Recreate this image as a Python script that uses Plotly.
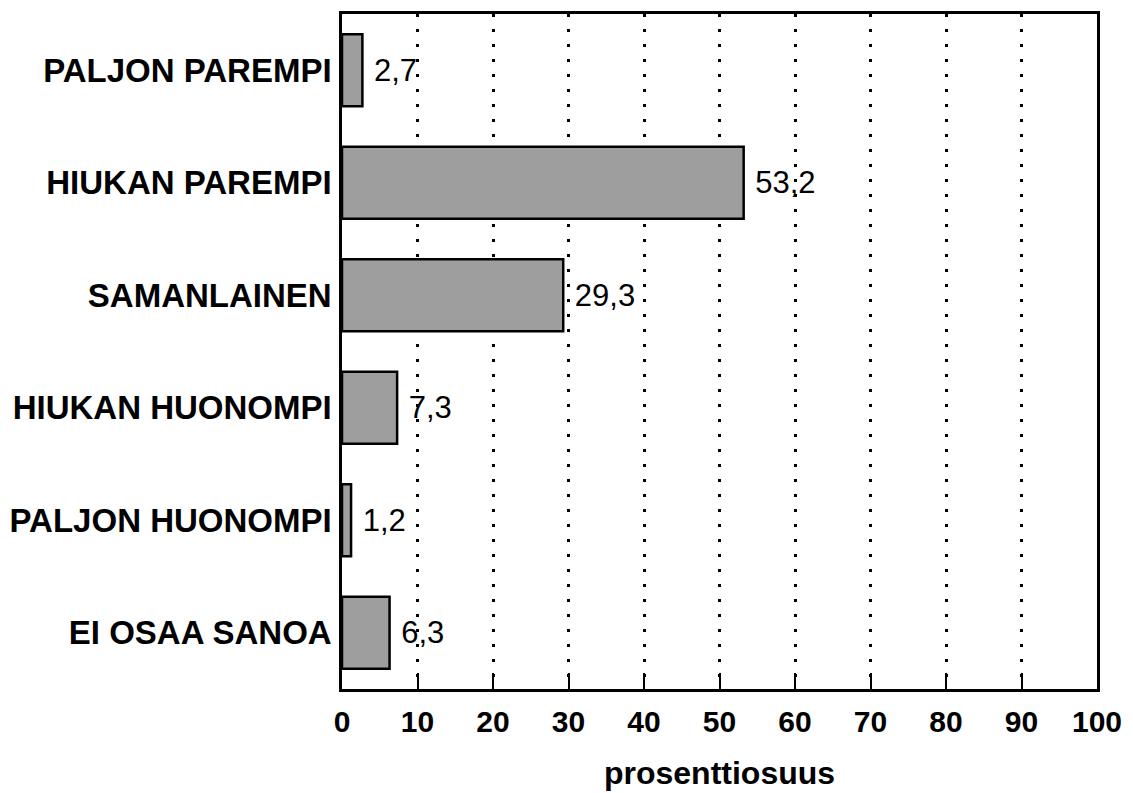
import plotly.graph_objects as go

categories = ["PALJON PAREMPI", "HIUKAN PAREMPI", "SAMANLAINEN",
              "HIUKAN HUONOMPI", "PALJON HUONOMPI", "EI OSAA SANOA"]
values = [2.7, 53.2, 29.3, 7.3, 1.2, 6.3]
x_ticks = [0, 10, 20, 30, 40, 50, 60, 70, 80, 90, 100]
x_title = "prosenttiosuus"

labels = [" " + f"{v:.1f}".replace(".", ",") for v in values]

FONT = "Liberation Sans, Arial, Helvetica, sans-serif"

fig = go.Figure(go.Bar(
    x=values, y=categories, orientation="h",
    width=0.64,
    marker=dict(color="#9e9e9e", line=dict(color="black", width=2.5)),
    text=labels, textposition="outside", constraintext="none",
    textfont=dict(family=FONT, size=31, color="black"),
    cliponaxis=False,
))

fig.update_layout(
    width=1133, height=793,
    margin=dict(l=342, r=36, t=14, b=104, autoexpand=False),
    paper_bgcolor="white", plot_bgcolor="white",
    showlegend=False,
    font=dict(family=FONT, color="black"),
)

fig.update_xaxes(
    range=[0, 100], tickvals=x_ticks, ticktext=[str(t) for t in x_ticks],
    ticks="inside", ticklen=16, tickwidth=2, tickcolor="black",
    showline=True, linecolor="black", linewidth=2.5, mirror=True,
    showgrid=True, gridcolor="black", gridwidth=2.5, griddash="2.5px,12.5px",
    zeroline=False, automargin=False,
    tickfont=dict(family=FONT, size=30, color="black", weight="bold"),
    ticklabelstandoff=4,
    title=dict(text=x_title, font=dict(family=FONT, size=32, color="black", weight="bold"),
               standoff=25),
)

fig.update_yaxes(
    type="category", categoryorder="array", categoryarray=categories,
    range=[5.5, -0.5],
    ticks="", showline=True, linecolor="black", linewidth=2.5, mirror=True,
    showgrid=False, zeroline=False, automargin=False,
    tickfont=dict(family=FONT, size=33, color="black", weight="bold"),
    ticklabelstandoff=1,
)

fig.write_html("out.html", config={"displayModeBar": False},
               post_script="document.body.style.margin='0';document.body.style.overflow='hidden';")
